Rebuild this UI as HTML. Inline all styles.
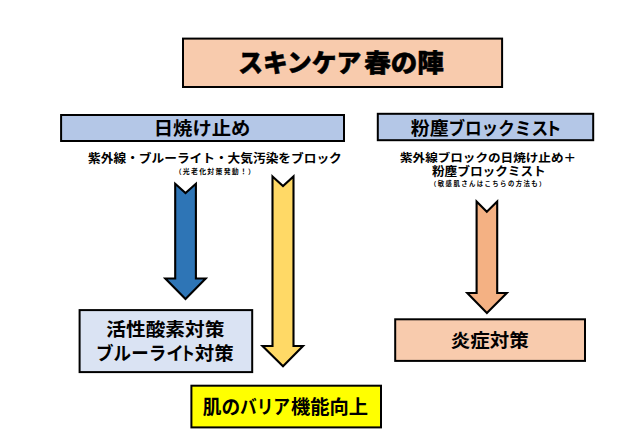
<!DOCTYPE html>
<html lang="ja">
<head>
<meta charset="utf-8">
<title>スキンケア春の陣</title>
<style>
html,body{margin:0;padding:0;background:#fff;}
body{width:621px;height:443px;overflow:hidden;position:relative;}
svg{position:absolute;left:0;top:0;display:block;}
text{font-family:"Liberation Sans","Noto Sans CJK JP",sans-serif;fill:#000;}
.b7{font-weight:700;}
.b9{font-weight:900;}
.bx{stroke:#000;stroke-width:2;}
.ar{stroke:#000;stroke-width:2.1;stroke-linejoin:miter;}
</style>
</head>
<body>
<svg width="621" height="443" viewBox="0 0 621 443">
  <rect class="bx" x="183" y="38.6" width="319.1" height="48.4" fill="#F8CBAD"/>
  <rect class="bx" x="61.1" y="115" width="282.9" height="26" fill="#B4C7E7"/>
  <rect class="bx" x="377.8" y="113.8" width="215.4" height="26.4" fill="#B4C7E7"/>
  <rect class="bx" x="79.6" y="310.1" width="172.6" height="62" fill="#DAE3F3"/>
  <rect class="bx" x="191.4" y="385.7" width="189.6" height="41.7" fill="#FFFF00"/>
  <rect class="bx" x="395.2" y="319.3" width="189.8" height="41.6" fill="#F8CBAD"/>
  <path class="ar" fill="#2E75B6" d="M175.2 183.8 L185.5 193.1 L195.9 183.8 L195.9 278.5 L205.7 278.5 L185.5 299 L165.3 278.5 L175.2 278.5 Z"/>
  <path class="ar" fill="#FFD966" d="M272.5 176.5 L283 186.1 L293.5 176.5 L293.5 346 L303 346 L283 366.3 L262.5 346 L272.5 346 Z"/>
  <path class="ar" fill="#F4B183" d="M476.6 201.6 L486.8 211.8 L497.2 201.6 L497.2 293 L506.8 293 L486.9 312.9 L467.3 293 L476.6 293 Z"/>
  <g role="text" aria-label="スキンケア春の陣"><text class="b9" font-size="25.28" stroke="#000" stroke-width="0.45" stroke-linejoin="round" transform="translate(238.27 72.22) scale(0.9802 1)">スキンケア</text><text class="b9" font-size="25.28" stroke="#000" stroke-width="0.45" stroke-linejoin="round" transform="translate(364.20 72.22) scale(1.0517 1)">春の陣</text></g>
  <text class="b7" font-size="18.29"  transform="translate(153.79 135.22) scale(1.0571 1)">日焼け止め</text>
  <g role="text" aria-label="粉塵ブロックミスト"><text class="b7" font-size="18.03"  transform="translate(410.77 134.93) scale(1.0504 1)">粉塵</text><text class="b7" font-size="18.03"  transform="translate(448.39 134.93) scale(0.9219 1)">ブロックミス</text><text class="b7" font-size="18.03"  transform="translate(545.25 134.93) scale(0.9000 1)">ト</text></g>
  <text class="b7" font-size="12.10"  transform="translate(88.08 162.95) scale(1.0493 1)">紫外線・ブルーライト・大気汚染をブロック</text>
  <text class="b7" font-size="6.90" letter-spacing="1.267" x="174.70" y="173.53">（光老化対策発動！）</text>
  <text class="b7" font-size="11.93"  transform="translate(399.97 161.52) scale(1.0561 1)">紫外線ブロックの日焼け止め＋</text>
  <text class="b7" font-size="12.14"  transform="translate(431.94 176.05) scale(1.0424 1)">粉塵ブロックミスト</text>
  <text class="b7" font-size="6.33" letter-spacing="1.457" x="430.05" y="186.32">（敏感肌さんはこちらの方法も）</text>
  <text class="b7" font-size="18.34"  transform="translate(106.29 335.62) scale(1.0749 1)">活性酸素対策</text>
  <g role="text" aria-label="ブルーライト対策"><text class="b7" font-size="18.45"  transform="translate(96.10 360.48) scale(0.9496 1)">ブルーライ</text><text class="b7" font-size="18.45"  transform="translate(180.30 360.48) scale(0.8000 1)">ト</text><text class="b7" font-size="18.45"  transform="translate(194.87 360.48) scale(1.0545 1)">対策</text></g>
  <g role="text" aria-label="肌のバリア機能向上"><text class="b7" font-size="18.78"  transform="translate(202.80 414.23) scale(0.9958 1)">肌の</text><text class="b7" font-size="18.78"  transform="translate(239.93 414.23) scale(0.8899 1)">バリア</text><text class="b7" font-size="18.78"  transform="translate(290.89 414.23) scale(1.0278 1)">機能向上</text></g>
  <text class="b7" font-size="18.43"  transform="translate(450.81 346.88) scale(1.0566 1)">炎症対策</text>
</svg>
</body>
</html>
